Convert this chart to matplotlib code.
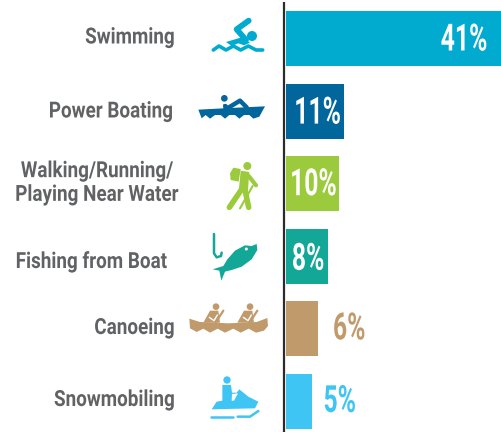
#!/usr/bin/env python3
import matplotlib
matplotlib.use("Agg")
import matplotlib.pyplot as plt
from matplotlib.patches import Circle, Polygon
from matplotlib.patheffects import AbstractPathEffect
from matplotlib.transforms import Affine2D

categories = ["Swimming", "Power Boating", "Walking/Running/\nPlaying Near Water",
              "Fishing from Boat", "Canoeing", "Snowmobiling"]
values = [41, 11, 10, 8, 6, 5]
colors = ["#00abcf", "#00669b", "#9bcb3c", "#12a797", "#c19a6b", "#3fc5f4"]
labels = ["41%", "11%", "10%", "8%", "6%", "5%"]
label_colors = ["white", "white", "white", "white", "#c19a6b", "#3fc5f4"]
label_x = [33.8, 6.0, 5.2, 4.2, 12.0, 10.2]   # centre of value text, in % units
label_dy = [1.5, 2, 1, 3, 0, 0]               # nudge down, px
cat_x = [130, 111, 97, 91.5, 134.5, 114.5]

W, H = 502, 432
FONT = ["Roboto", "DejaVu Sans"]


class Squeeze(AbstractPathEffect):
    # no condensed font installed, so narrow the glyphs about the text anchor
    def __init__(self, anchor_px, sx):
        super().__init__()
        self.anchor_px = anchor_px
        self.sx = sx

    def draw_path(self, renderer, gc, tpath, affine, rgbFace=None):
        a = affine + Affine2D().translate(-self.anchor_px, 0).scale(self.sx, 1).translate(self.anchor_px, 0)
        renderer.draw_path(gc, tpath, a, rgbFace)


fig = plt.figure(figsize=(W / 100, H / 100), dpi=100)
ax = fig.add_axes([286 / W, 0, (W - 286) / W, 1])
ax.barh(range(6), values, height=0.76, color=colors)
ax.set_xlim(0, 41)
# 72.6 px between bars, first centred at y=38.5
ax.set_ylim((432 - 38.5) / 72.6, -38.5 / 72.6)
ax.axis("off")
for i, v in enumerate(values):
    px = 286 + label_x[i] * 216 / 41
    ax.text(label_x[i], i + label_dy[i] / 72.6, labels[i], color=label_colors[i], fontsize=27,
            fontweight="bold", ha="center", va="center", family=FONT, path_effects=[Squeeze(px, 0.66)])

# overlay in pixel coordinates for the axis line, category text and icons
ov = fig.add_axes([0, 0, 1, 1], facecolor="none")
ov.set_xlim(0, W)
ov.set_ylim(H, 0)
ov.axis("off")
ov.plot([284.5, 284.5], [2, 432], color="#2b2b2b", lw=1.6, solid_capstyle="butt")

cat_y = [37.5, 111.5, 183, 262, 328, 400]
for i, c in enumerate(categories):
    ov.text(cat_x[i], cat_y[i], c, color="#616264", fontsize=16, fontweight="bold",
            ha="center", va="center", multialignment="center", linespacing=1.1, family=FONT,
            path_effects=[Squeeze(cat_x[i], 0.85)])


def z(pts, oy=0):
    # zoom crop coords to px
    return [(170 + x / 3, oy + y / 3) for x, y in pts]


def line(pts, col, lw, oy=0, cap="round"):
    p = z(pts, oy)
    ov.plot([a for a, b in p], [b for a, b in p], color=col, lw=lw,
            solid_capstyle=cap, solid_joinstyle="round")


def poly(pts, col, oy=0):
    ov.add_patch(Polygon(z(pts, oy), closed=True, fc=col, ec="none"))


def circ(x, y, r, col, oy=0):
    p = z([(x, y)], oy)[0]
    ov.add_patch(Circle(p, r / 3, fc=col, ec="none"))


# swimmer
c = colors[0]
circ(246, 108, 15, c)
line([(236, 62), (200, 88), (228, 120)], c, 4.2)
poly([(168, 126), (215, 112), (240, 128), (222, 136), (205, 130), (185, 138)], c)
line([(130, 150), (147, 138), (168, 150), (190, 138), (212, 150), (235, 138), (258, 150), (278, 150)], c, 2.6)

# power boat
c = colors[1]
circ(163, 295, 10, c)
line([(166, 318), (172, 325), (210, 302), (230, 322)], c, 3.2)
poly([(160, 312), (175, 320), (175, 330), (160, 330)], c)
poly([(85, 329), (160, 325), (285, 319), (268, 350), (250, 356), (238, 345), (222, 345), (208, 356),
      (195, 345), (178, 345), (165, 356), (152, 345), (135, 345), (120, 356), (107, 345), (95, 355)], c)

# hiker
c = colors[2]
circ(232, 498, 12, c)
poly([(190, 503), (212, 507), (206, 545), (182, 540), (180, 520)], c)
poly([(212, 512), (238, 516), (234, 570), (207, 566)], c)
line([(236, 528), (258, 556)], c, 3.0)
line([(217, 565), (178, 622)], c, 4.0)
line([(224, 565), (236, 622)], c, 4.0)
line([(248, 558), (210, 625)], c, 1.5)

# fishing hook and fish, crop starts at y=220
c = colors[3]
oy = 220
line([(132, 42), (132, 100), (140, 112), (153, 108), (155, 98)], c, 1.8, oy)
poly([(260, 72), (262, 90), (245, 118), (215, 140), (185, 150), (165, 155), (154, 182), (148, 152),
      (128, 148), (160, 138), (172, 118), (195, 92), (225, 76), (245, 78)], c, oy)
circ(229, 87, 4.5, "white", oy)

# canoe
c = colors[4]
poly([(58, 296), (90, 306), (175, 310), (260, 306), (292, 294), (294, 318), (282, 332), (258, 338),
      (236, 326), (212, 338), (190, 326), (165, 338), (143, 326), (120, 338), (100, 326), (80, 336),
      (60, 325)], c, oy)
for dx in (0, 102):
    circ(138 + dx, 260, 10, c, oy)
    poly([(120 + dx, 272), (145 + dx, 272), (150 + dx, 308), (100 + dx, 308)], c, oy)
    line([(160 + dx, 272), (130 + dx, 318)], c, 1.6, oy)
    line([(118 + dx, 292), (132 + dx, 302), (142 + dx, 285)], "white", 1.0, oy)

# snowmobile
c = colors[5]
circ(171, 480, 11, c, oy)
poly([(157, 495), (183, 495), (186, 518), (200, 518), (208, 508), (235, 530), (265, 545), (255, 565),
      (125, 568), (140, 545), (157, 542)], c, oy)
poly([(186, 522), (204, 520), (192, 542), (185, 542)], "white", oy)
line([(122, 590), (190, 590)], c, 1.8, oy)
line([(203, 590), (240, 590), (265, 573)], c, 1.8, oy)

fig.savefig("out.png", dpi=100)
